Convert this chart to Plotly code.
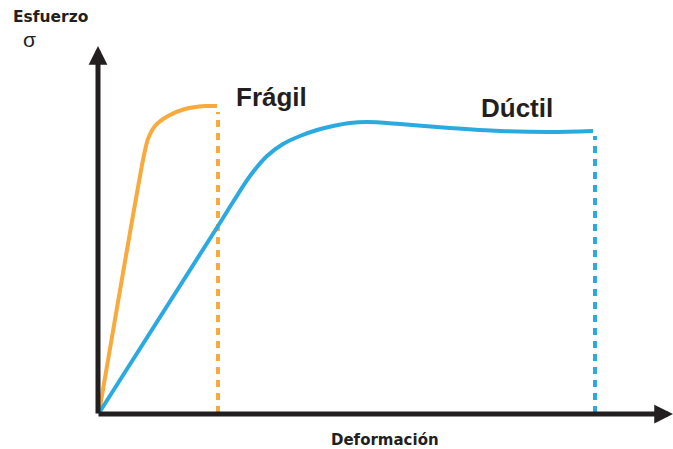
import plotly.graph_objects as go

# Curves (deformation, stress)
fragil_x = [0, 45, 49, 56, 69, 86, 106, 118]
fragil_y = [0, 258, 274, 287, 297, 304, 307, 307]
fragil_break = 119

ductil_x = [0, 119, 134, 151, 168, 184, 201, 218, 234, 251, 268, 301, 351, 401, 451, 494]
ductil_y = [0, 187, 211, 237, 257, 269, 277, 283, 287, 290, 291, 289, 285, 282, 281, 282]
ductil_break = 496

ORANGE = "#F8AA3C"
BLUE = "#2AAAE1"
BLACK = "#231F20"
FONT = "Liberation Sans"
FONT2 = "DejaVu Sans"

L, T, W, H = 97, 46, 576, 369
XR = [-2, 574]
YR = [-2, 367]


def px(xp, yp):
    """pixel position -> paper coords"""
    return (xp - L) / W, (T + H - yp) / H


fig = go.Figure()
fig.add_trace(go.Scatter(x=[fragil_break, fragil_break], y=[0, fragil_y[-1] - 6], mode="lines",
                         line=dict(color=ORANGE, width=4, dash="7px,6px"), hoverinfo="skip"))
fig.add_trace(go.Scatter(x=[ductil_break, ductil_break], y=[0, ductil_y[-1] - 5], mode="lines",
                         line=dict(color=BLUE, width=4, dash="7px,6px"), hoverinfo="skip"))
fig.add_trace(go.Scatter(x=fragil_x, y=fragil_y, mode="lines",
                         line=dict(color=ORANGE, width=4, shape="spline", smoothing=0.7)))
fig.add_trace(go.Scatter(x=ductil_x, y=ductil_y, mode="lines",
                         line=dict(color=BLUE, width=4, shape="spline", smoothing=0.9)))

# axes with arrows
fig.add_annotation(x=-1, y=367, ax=-1, ay=-2, xref="x", yref="y", axref="x", ayref="y",
                   showarrow=True, arrowhead=2, arrowsize=0.75, arrowwidth=5, arrowcolor=BLACK, text="")
fig.add_annotation(x=574, y=-1, ax=-2, ay=-1, xref="x", yref="y", axref="x", ayref="y",
                   showarrow=True, arrowhead=2, arrowsize=0.75, arrowwidth=5, arrowcolor=BLACK, text="")

# labels
def label(text, xp, yp, size, family, anchor="left"):
    x, y = px(xp, yp)
    fig.add_annotation(x=x, y=y, xref="paper", yref="paper", text=text, showarrow=False,
                       xanchor=anchor, yanchor="middle", font=dict(family=family, size=size, color=BLACK))

label("<b>Esfuerzo</b>", 11, 17, 15.5, FONT2)
label("σ", 21, 40, 21, FONT)
label("<b>Frágil</b>", 234, 97, 26, FONT)
label("<b>Dúctil</b>", 479, 108, 26, FONT)
label("<b>Deformación</b>", 385, 440, 15, FONT2, anchor="center")

fig.update_xaxes(range=XR, visible=False, fixedrange=True)
fig.update_yaxes(range=YR, visible=False, fixedrange=True)
fig.update_layout(width=673, height=449, margin=dict(l=L, r=673 - L - W, t=T, b=449 - T - H),
                  plot_bgcolor="white", paper_bgcolor="white", showlegend=False)
fig.write_html("out.html", post_script="document.body.style.margin='0';",
               config={"displayModeBar": False})
